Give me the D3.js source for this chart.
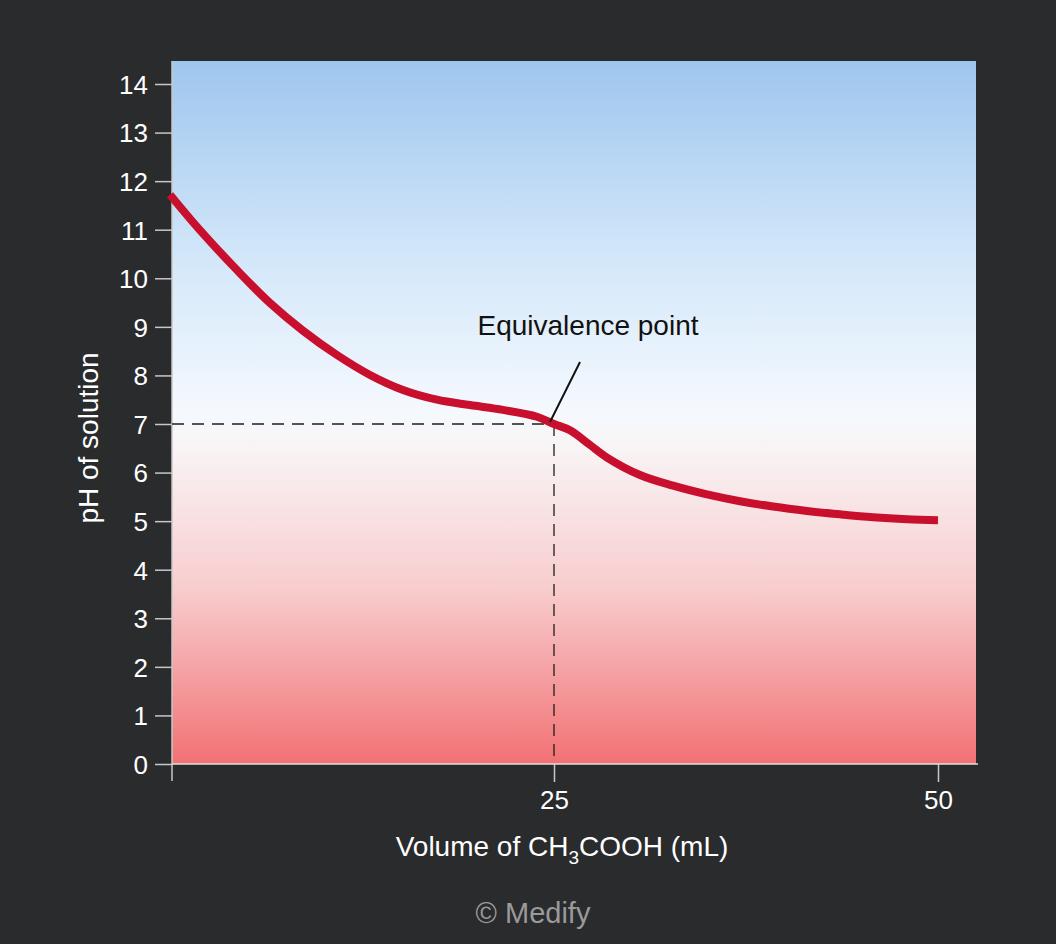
<!DOCTYPE html>
<html>
<head>
<meta charset="utf-8">
<script src="https://cdn.jsdelivr.net/npm/d3@7"></script>
<style>
  body { margin: 0; background: #2a2b2d; }
  svg { display: block; }
</style>
</head>
<body>
<script>
// titration curve values
const volumeML = [0, 1.95, 4.36, 6.51, 8.66, 10.87, 13.02, 15.17, 17.38, 19.53, 21.68, 23.89, 25,
  26.04, 27.34, 28.45, 30.6, 32.75, 34.96, 37.11, 39.26, 41.47, 43.62, 45.77, 47.98, 50];
const phValues = [11.72, 10.99, 10.17, 9.49, 8.92, 8.42, 8.01, 7.7, 7.5, 7.39, 7.29, 7.15, 7.0,
  6.87, 6.57, 6.31, 5.95, 5.73, 5.55, 5.41, 5.3, 5.21, 5.14, 5.08, 5.04, 5.02];
const yTicks = [0, 1, 2, 3, 4, 5, 6, 7, 8, 9, 10, 11, 12, 13, 14];
const xTicks = [25, 50];
const equivalence = { v: 25, ph: 7 };

const width = 1056, height = 944;
const plotL = 172, plotR = 976, plotT = 61, plotB = 764;
const font = "'Liberation Sans', Arial, sans-serif";

const svg = d3.select("body").append("svg").attr("width", width).attr("height", height);

const x = d3.scaleLinear().domain([0, 50]).range([170, 938]);
const y = d3.scaleLinear().domain([0, 14]).range([plotB, 84]);

// background gradient
const grad = svg.append("defs").append("linearGradient")
    .attr("id", "bg").attr("x1", 0).attr("y1", 0).attr("x2", 0).attr("y2", 1);
[["0%", "#9ec6ee"], ["28%", "#d3e7f9"], ["50%", "#f5f9fe"], ["55%", "#f8f4f5"],
 ["75%", "#f8cdce"], ["100%", "#f27174"]].forEach(s => {
    grad.append("stop").attr("offset", s[0]).attr("stop-color", s[1]);
});

svg.append("rect")
    .attr("x", plotL).attr("y", plotT)
    .attr("width", plotR - plotL).attr("height", plotB - plotT)
    .attr("fill", "url(#bg)");

// axes
const yAxis = svg.append("g")
    .attr("transform", `translate(${plotL},0)`)
    .call(d3.axisLeft(y).tickValues(yTicks).tickSize(17).tickPadding(7).tickFormat(d3.format("d")));
yAxis.select(".domain").remove();
yAxis.selectAll("line").attr("stroke", "#c8c8c8").attr("stroke-width", 1.5);
yAxis.selectAll("text").attr("fill", "#fff").attr("font-size", 26).attr("font-family", font)
    .attr("dy", "0.36em");

const xAxis = svg.append("g")
    .attr("transform", `translate(0,${plotB})`)
    .call(d3.axisBottom(x).tickValues(xTicks).tickSize(18).tickPadding(9).tickFormat(d3.format("d")));
xAxis.select(".domain").remove();
xAxis.selectAll("line").attr("stroke", "#c8c8c8").attr("stroke-width", 1.5);
xAxis.selectAll("text").attr("fill", "#fff").attr("font-size", 26).attr("font-family", font);

svg.append("line")
    .attr("x1", plotL).attr("x2", plotL).attr("y1", plotT).attr("y2", plotB + 17)
    .attr("stroke", "#c8c8c8").attr("stroke-width", 1.5);
svg.append("line")
    .attr("x1", plotL).attr("x2", 978).attr("y1", plotB).attr("y2", plotB)
    .attr("stroke", "#e0e0e0").attr("stroke-width", 1.5);

// dashed guide lines to the equivalence point
svg.append("line")
    .attr("x1", plotL).attr("x2", x(equivalence.v))
    .attr("y1", y(equivalence.ph)).attr("y2", y(equivalence.ph))
    .attr("stroke", "#1e1e1e").attr("stroke-width", 1.3).attr("stroke-dasharray", "12,8");
svg.append("line")
    .attr("x1", x(equivalence.v)).attr("x2", x(equivalence.v))
    .attr("y1", y(equivalence.ph)).attr("y2", plotB)
    .attr("stroke", "#1e1e1e").attr("stroke-width", 1.3).attr("stroke-dasharray", "12,8");

// curve
const line = d3.line()
    .x((d, i) => x(volumeML[i]))
    .y(d => y(d))
    .curve(d3.curveCatmullRom.alpha(0.5));

svg.append("path")
    .attr("d", line(phValues))
    .attr("fill", "none")
    .attr("stroke", "#c8102e")
    .attr("stroke-width", 8);

// annotation
svg.append("line")
    .attr("x1", x(equivalence.v) - 4).attr("y1", y(equivalence.ph) - 2)
    .attr("x2", 580).attr("y2", 362)
    .attr("stroke", "#111").attr("stroke-width", 2);
svg.append("text")
    .attr("x", 588).attr("y", 335)
    .attr("text-anchor", "middle")
    .attr("font-family", font).attr("font-size", 28).attr("fill", "#111")
    .text("Equivalence point");

// axis titles
const xt = svg.append("text")
    .attr("x", 562).attr("y", 856)
    .attr("text-anchor", "middle")
    .attr("font-family", font).attr("font-size", 28).attr("fill", "#fff");
xt.append("tspan").text("Volume of CH");
xt.append("tspan").attr("font-size", 19).attr("dy", 8).text("3");
xt.append("tspan").attr("dy", -8).text("COOH (mL)");

svg.append("text")
    .attr("transform", "translate(98,438) rotate(-90)")
    .attr("text-anchor", "middle")
    .attr("font-family", font).attr("font-size", 28).attr("fill", "#fff")
    .text("pH of solution");

svg.append("text")
    .attr("x", 533).attr("y", 923)
    .attr("text-anchor", "middle")
    .attr("font-family", font).attr("font-size", 29).attr("fill", "#9a9a9a")
    .text("© Medify");
</script>
</body>
</html>
